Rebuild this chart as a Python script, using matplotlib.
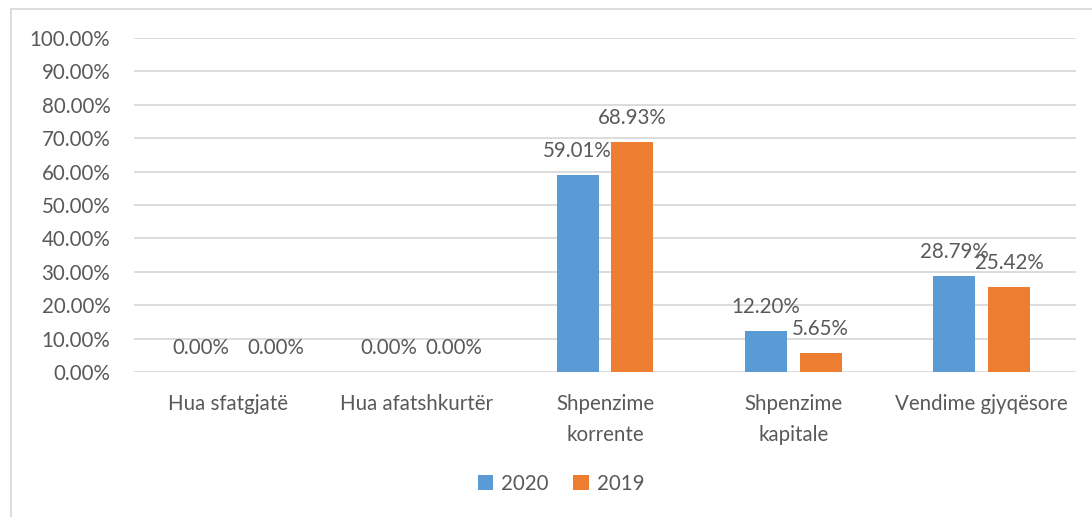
import numpy as np
import matplotlib.pyplot as plt
from matplotlib.lines import Line2D

plt.rcParams['font.family'] = ['Lato', 'DejaVu Sans']

categories = ['Hua sfatgjatë', 'Hua afatshkurtër', 'Shpenzime\nkorrente',
              'Shpenzime\nkapitale', 'Vendime gjyqësore']
vals_2020 = [0.0, 0.0, 59.01, 12.20, 28.79]
vals_2019 = [0.0, 0.0, 68.93, 5.65, 25.42]

blue = '#5B9BD5'
orange = '#ED7D31'
txt = '#595959'
grid = '#D9D9D9'
fs = 14.8

fig = plt.figure(figsize=(10.92, 5.17), dpi=100)
ax = fig.add_axes([134 / 1092, 1 - 372 / 517, (1076 - 134) / 1092, (372 - 38) / 517])

x = np.arange(len(categories))
w = 0.223
off = 0.145
b1 = ax.bar(x - off, vals_2020, w, color=blue, label='2020')
b2 = ax.bar(x + off, vals_2019, w, color=orange, label='2019')

# value labels above each bar; zero labels nudged apart so they don't collide
nudge_2019 = [20, 10, 0, 0, 0]
for bars, vals, nudge in ((b1, vals_2020, [0] * 5), (b2, vals_2019, nudge_2019)):
    for rect, v, dx in zip(bars, vals, nudge):
        ax.annotate(f'{v:.2f}%', (rect.get_x() + rect.get_width() / 2, v),
                    xytext=(dx, 14), textcoords='offset pixels',
                    ha='center', va='bottom', fontsize=fs, color=txt)

ax.set_xlim(-0.5, len(categories) - 0.5)
ax.set_ylim(0, 100)
ax.set_yticks(np.arange(0, 101, 10))
ax.set_yticklabels([f'{t:.2f}%' for t in np.arange(0, 101, 10)])
ax.set_xticks(x)
ax.set_xticklabels(categories, linespacing=1.65, va='top')
ax.tick_params(axis='x', length=0, pad=16, labelsize=fs, labelcolor=txt)
ax.tick_params(axis='y', length=0, pad=17, labelsize=fs, labelcolor=txt)
ax.yaxis.grid(True, color=grid, linewidth=1.3)
ax.set_axisbelow(True)
for s in ax.spines.values():
    s.set_visible(False)

ax.legend(loc='center', bbox_to_anchor=(561 / 1092, 1 - 484 / 517),
          bbox_transform=fig.transFigure, ncol=2, frameon=False,
          handlelength=0.75, handleheight=0.75, handletextpad=0.4,
          columnspacing=1.2, fontsize=fs, labelcolor=txt)

# chart frame
fig.add_artist(Line2D([11 / 1092, 11 / 1092], [0, 1 - 9 / 517],
                      transform=fig.transFigure, color=grid, linewidth=1.3))
fig.add_artist(Line2D([11 / 1092, 1], [1 - 9 / 517, 1 - 9 / 517],
                      transform=fig.transFigure, color=grid, linewidth=1.3))

fig.savefig('out.png', dpi=100)
